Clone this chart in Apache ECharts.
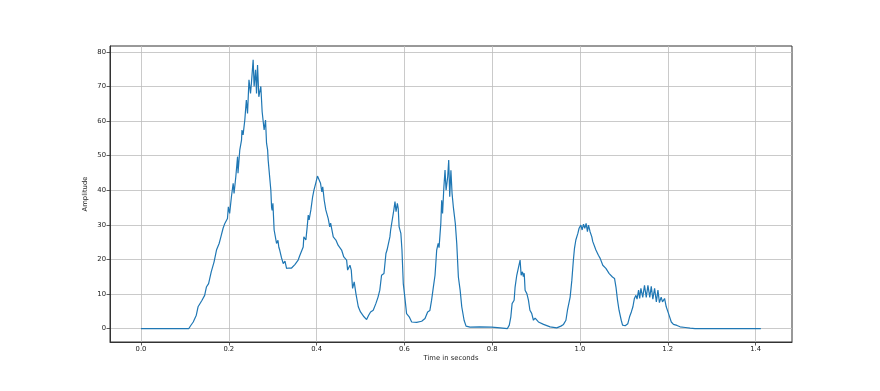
<!DOCTYPE html>
<html>
<head>
<meta charset="utf-8">
<script src="https://cdn.jsdelivr.net/npm/echarts@6/dist/echarts.min.js"></script>
<style>
html,body{margin:0;padding:0;background:#fff;}
#chart{width:880px;height:391px;}
</style>
</head>
<body>
<div id="chart"></div>
<script>
// Time in seconds
var times = [0,0.109,0.113,0.119,0.126,0.130,0.134,0.139,0.145,0.149,0.154,0.160,0.1665,0.172,0.178,0.182,0.187,0.191,0.197,0.199,0.202,0.206,0.210,0.212,0.216,0.220,0.221,0.225,0.229,0.230,0.2326,0.2365,0.240,0.2427,0.246,0.2495,0.2515,0.2555,0.2577,0.261,0.2632,0.2655,0.2684,0.273,0.276,0.2805,0.2837,0.286,0.2885,0.2897,0.2958,0.2975,0.2988,0.3005,0.3033,0.3088,0.312,0.314,0.316,0.320,0.324,0.328,0.3316,0.337,0.343,0.3505,0.358,0.362,0.3695,0.371,0.3756,0.3786,0.381,0.383,0.387,0.391,0.394,0.398,0.402,0.406,0.409,0.412,0.414,0.4174,0.421,0.4265,0.430,0.432,0.438,0.444,0.449,0.457,0.462,0.4684,0.4707,0.476,0.479,0.482,0.4857,0.4896,0.495,0.500,0.508,0.514,0.5186,0.523,0.529,0.535,0.540,0.544,0.548,0.5535,0.558,0.5605,0.564,0.567,0.5687,0.573,0.576,0.5786,0.581,0.584,0.586,0.588,0.592,0.5945,0.5975,0.601,0.605,0.611,0.6166,0.628,0.6394,0.647,0.653,0.658,0.662,0.666,0.6698,0.6736,0.677,0.679,0.683,0.685,0.687,0.690,0.6926,0.695,0.6987,0.701,0.7033,0.706,0.7086,0.7115,0.716,0.7193,0.723,0.727,0.7307,0.736,0.7405,0.7496,0.771,0.799,0.818,0.8347,0.839,0.8425,0.8454,0.850,0.8522,0.856,0.860,0.8636,0.866,0.869,0.871,0.873,0.875,0.879,0.8826,0.886,0.890,0.894,0.8978,0.9054,0.917,0.932,0.947,0.9565,0.9625,0.968,0.9715,0.9776,0.9815,0.985,0.9875,0.9906,0.9952,0.998,1.002,1.005,1.008,1.011,1.014,1.017,1.0194,1.023,1.027,1.029,1.033,1.0363,1.039,1.042,1.046,1.049,1.052,1.055,1.059,1.063,1.0666,1.071,1.074,1.0787,1.082,1.0855,1.089,1.094,1.097,1.103,1.109,1.113,1.117,1.1206,1.124,1.1275,1.130,1.1335,1.136,1.1388,1.143,1.147,1.151,1.1548,1.159,1.1624,1.166,1.170,1.174,1.1776,1.181,1.185,1.188,1.1927,1.1965,1.2018,1.208,1.213,1.221,1.228,1.240,1.251,1.262,1.412];
// Amplitude
var amplitude = [0,0,0.8,1.9,3.85,6.3,6.0,8.2,9.6,12.0,13.0,16.4,19.3,22.7,24.6,26.5,29.0,30.4,31.8,35.2,33.3,38.1,42.0,39.1,43.9,49.7,44.9,51.6,54.5,57.4,56.0,60.3,66.1,62.2,71.9,68.0,70.9,77.7,70.0,74.8,68.0,76.2,67.0,70.0,62.7,57.4,60.3,53.6,51.6,48.7,40.0,35.0,34.2,36.2,28.5,24.6,25.5,23.5,22.7,20.5,18.8,19.5,17.4,17.5,17.5,18.5,19.8,21.2,23.6,26.5,25.6,29.4,32.8,31.4,34.3,38.1,40.0,42.0,44.1,44.0,42.0,39.5,41.0,37.1,34.3,31.8,29.4,30.5,26.5,25.6,24.1,22.7,20.7,19.8,16.9,18.3,16.9,11.6,13.5,10.1,6.3,4.8,3.4,2.6,3.85,4.8,5.3,7.2,9.1,11.1,15.4,15.9,21.7,22.7,22.5,26.5,28.5,29.0,34.3,36.7,33.8,36.2,34.7,29.4,27.5,22.7,13.0,9.1,4.3,3.4,1.9,1.8,2.1,2.9,4.8,5.2,8.2,12.0,15.4,22.7,24.6,23.4,30.4,37.1,33.3,41.0,45.8,40.0,43.9,48.7,38.1,45.8,39.1,35.2,30.4,24.6,14.9,11.1,6.3,2.4,0.7,0.4,0.5,0.4,0.2,0.0,1.0,3.4,7.2,8.2,12.0,15.4,15.4,19.8,15.4,16.4,15.0,16.0,11.1,10.1,8.2,5.3,4.4,2.4,3.0,1.9,1.2,0.5,0.2,0.7,1.2,2.4,5.3,9.1,14.0,19.8,23.2,25.6,27.5,29.0,29.9,28.5,30.2,29.0,30.4,28.0,29.9,28.0,26.5,25.2,25.5,22.7,23.2,21.2,20.3,19.8,18.3,18.8,17.4,17.2,15.9,15.4,14.9,14.5,12.0,8.2,5.3,2.4,1.0,0.8,1.4,3.4,4.8,6.3,8.7,9.6,8.5,11.1,8.7,11.6,9.0,12.5,9.0,12.5,9.0,12.2,8.5,11.6,7.7,11.1,7.5,9.1,7.7,8.7,6.3,4.3,1.9,1.2,0.9,0.5,0.3,0.1,0,0];
var xTicks = [0,0.2,0.4,0.6,0.8,1.0,1.2,1.4];
var yTicks = [0,10,20,30,40,50,60,70,80];

var seriesData = times.map(function(t,i){return [t, amplitude[i]];});
var chart = echarts.init(document.getElementById('chart'), null, {renderer:'canvas'});
var font = 'DejaVu Sans';
var gridLine = {show:true, lineStyle:{color:'#bdbdbd', width:0.8}};
chart.setOption({
  animation:false,
  backgroundColor:'#ffffff',
  grid:{left:110, top:46, width:682, height:296, show:true, borderColor:'#333', borderWidth:1, backgroundColor:'transparent'},
  xAxis:{
    type:'value', min:-0.0706, max:1.483,
    name:'Time in seconds', nameLocation:'middle', nameGap:13, nameMoveOverlap:false,
    nameTextStyle:{fontFamily:font, fontSize:6.8, color:'#222'},
    axisLine:{show:true, onZero:false, lineStyle:{color:'#333', width:1}},
    axisTick:{show:true, inside:false, length:3.5, lineStyle:{color:'#333', width:0.8}, customValues:xTicks},
    axisLabel:{fontFamily:font, fontSize:6.8, color:'#222', margin:4, customValues:xTicks,
      formatter:function(v){return v.toFixed(1);}},
    splitLine:gridLine
  },
  yAxis:{
    type:'value', min:-3.89, max:81.7,
    name:'Amplitude', nameLocation:'middle', nameGap:21, nameMoveOverlap:false,
    nameTextStyle:{fontFamily:font, fontSize:6.8, color:'#222'},
    axisLine:{show:true, onZero:false, lineStyle:{color:'#333', width:1}},
    axisTick:{show:true, inside:false, length:3.5, lineStyle:{color:'#333', width:0.8}, customValues:yTicks},
    axisLabel:{fontFamily:font, fontSize:6.8, color:'#222', margin:4, customValues:yTicks,
      formatter:function(v){return String(Math.round(v));}},
    splitLine:gridLine
  },
  series:[{
    type:'line', data:seriesData, showSymbol:false, symbol:'none',
    lineStyle:{color:'#1f77b4', width:1.2}, silent:true
  }]
});
</script>
</body>
</html>
